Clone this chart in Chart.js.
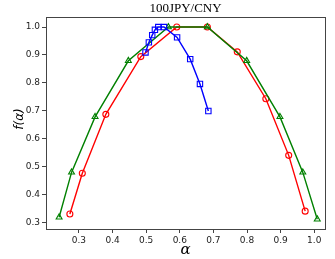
<!DOCTYPE html>
<html>
<head>
<meta charset="utf-8">
<script src="https://cdn.jsdelivr.net/npm/chart.js@4"></script>
<style>
  html, body { margin: 0; padding: 0; background: #fff; }
  #wrap { width: 335px; height: 259px; }
</style>
</head>
<body>
<div id="wrap"><canvas id="myChart" width="335" height="259"></canvas></div>
<script>
const titulo = '100JPY/CNY';
const tickValores = [0.3, 0.4, 0.5, 0.6, 0.7, 0.8, 0.9, 1.0];

// azul (quadrados)
const azulX = [0.498, 0.508, 0.518, 0.526, 0.536, 0.553, 0.592, 0.631, 0.660, 0.685];
const azulY = [0.909, 0.945, 0.971, 0.990, 1.0, 1.0, 0.963, 0.885, 0.796, 0.699];

// verde (triangulos)
const verdeX = [0.241, 0.278, 0.348, 0.447, 0.566, 0.682, 0.799, 0.898, 0.966, 1.009];
const verdeY = [0.318, 0.479, 0.678, 0.879, 1.0, 1.0, 0.879, 0.678, 0.479, 0.311];

// vermelho (circulos)
const vermelhoX = [0.273, 0.310, 0.380, 0.484, 0.591, 0.682, 0.771, 0.856, 0.924, 0.973];
const vermelhoY = [0.330, 0.476, 0.687, 0.894, 1.0, 1.0, 0.911, 0.743, 0.540, 0.340];

function pares(xs, ys) {
  return xs.map((x, i) => ({ x: x, y: ys[i] }));
}

function serie(xs, ys, cor, estilo, raio) {
  return {
    data: pares(xs, ys),
    showLine: true,
    borderColor: cor,
    borderWidth: 1.4,
    pointStyle: estilo,
    pointRadius: raio,
    pointBorderColor: cor,
    pointBackgroundColor: 'rgba(255,255,255,0)',
    pointBorderWidth: 1.1,
    tension: 0
  };
}

const moldura = {
  id: 'moldura',
  afterDraw(chart) {
    const { ctx, chartArea: a } = chart;
    ctx.save();
    ctx.strokeStyle = '#444';
    ctx.lineWidth = 1;
    ctx.strokeRect(a.left + 0.5, a.top + 0.5, a.right - a.left, a.bottom - a.top);

    ctx.fillStyle = '#000';
    ctx.textAlign = 'center';
    ctx.textBaseline = 'middle';
    ctx.font = '13px "Liberation Serif"';
    ctx.fillText(titulo, (a.left + a.right) / 2, 9);

    ctx.font = 'italic 15px "DejaVu Serif"';
    ctx.fillText('α', (a.left + a.right) / 2, 250);

    ctx.translate(20, 119);
    ctx.rotate(-Math.PI / 2);
    ctx.font = 'italic 12px "DejaVu Sans"';
    ctx.fillText('f(α)', 0, 0);
    ctx.restore();
  }
};

const eixoComum = {
  type: 'linear',
  grid: { display: true, drawOnChartArea: false, drawTicks: true, tickLength: 4, color: '#444' },
  border: { display: true, color: '#444' },
  ticks: {
    font: { family: 'DejaVu Sans', size: 9 },
    color: '#222',
    padding: 2,
    callback: v => v.toFixed(1)
  },
  afterBuildTicks: s => { s.ticks = tickValores.map(v => ({ value: v })); }
};

const ctx = document.getElementById('myChart').getContext('2d');
new Chart(ctx, {
  type: 'scatter',
  data: {
    datasets: [
      serie(azulX, azulY, 'blue', 'rect', 3.8),
      serie(verdeX, verdeY, 'green', 'triangle', 3.4),
      serie(vermelhoX, vermelhoY, 'red', 'circle', 3)
    ]
  },
  options: {
    responsive: false,
    animation: false,
    layout: { padding: { left: 0, right: 10, top: 17, bottom: 0 } },
    plugins: { legend: { display: false }, title: { display: false }, tooltip: { enabled: false } },
    scales: {
      x: Object.assign({}, eixoComum, {
        min: 0.202, max: 1.032,
        afterFit: s => { s.height = 30; }
      }),
      y: Object.assign({}, eixoComum, {
        min: 0.276, max: 1.036,
        afterFit: s => { s.width = 46; }
      })
    }
  },
  plugins: [moldura]
});
</script>
</body>
</html>
